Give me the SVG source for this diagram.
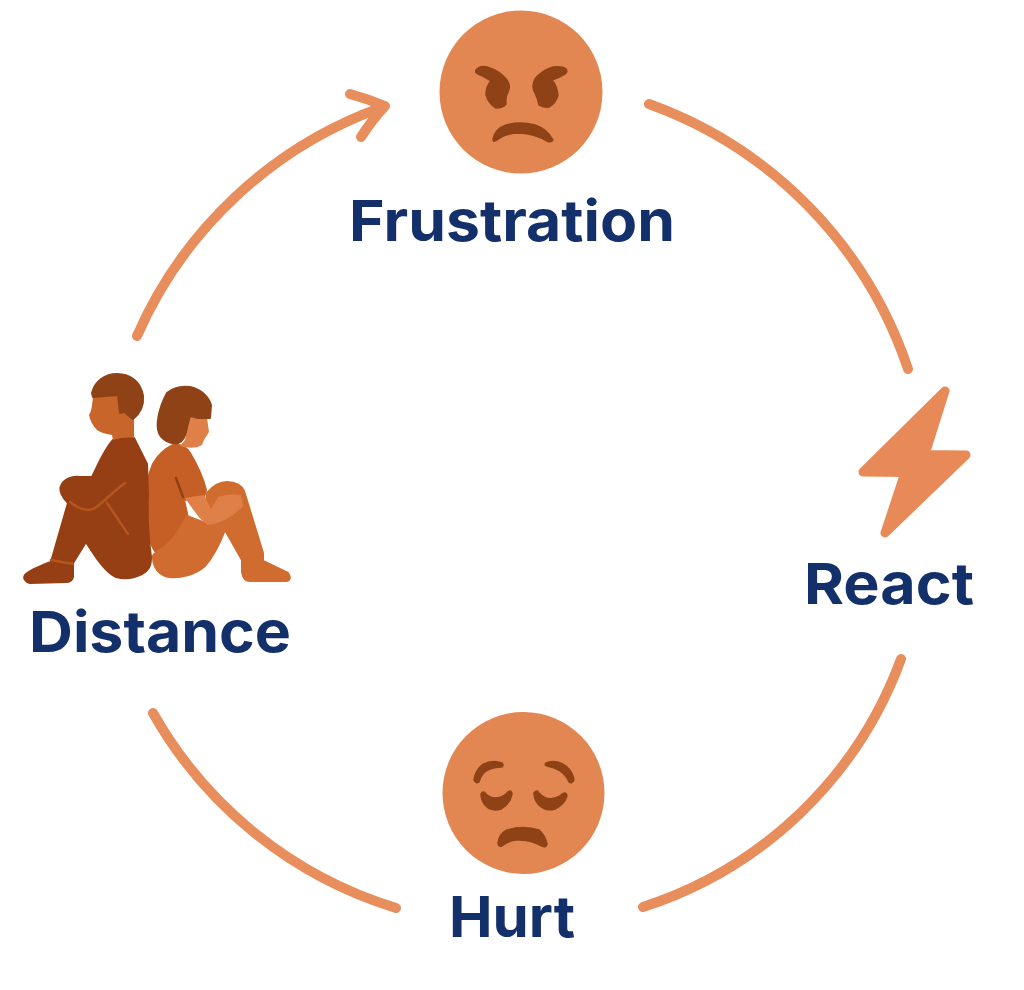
<svg xmlns="http://www.w3.org/2000/svg" width="1024" height="990" viewBox="0 0 1024 990">
<style>
.arc{fill:none;stroke:#e88d5c;stroke-width:10;stroke-linecap:round;stroke-linejoin:round}
.face{fill:#e38752}
.feat{fill:#8f4216;stroke:#8f4216;stroke-width:1.5;stroke-linejoin:round}
.lbl{font-family:"Inter","Liberation Sans",sans-serif;font-weight:700;font-size:57px;fill:#14306a}
.seam{fill:none;stroke:#b5561f;stroke-width:2.5;stroke-linecap:round;stroke-linejoin:round}
.fig{stroke-width:2;stroke-linejoin:round}
</style>
<rect width="1024" height="990" fill="#ffffff"/>
<g id="connectors">
<path class="arc" d="M649 104A425 425 0 0 1 908 369"/>
<path class="arc" d="M901 659A408 408 0 0 1 643 907"/>
<path class="arc" d="M396 908A420 420 0 0 1 153 713"/>
<path class="arc" d="M137 336A423 423 0 0 1 380 108"/>
<path class="arc" d="M350 94Q368 99 385 106Q372 120 361 137"/>
</g>
<g id="frustration">
<circle class="face" cx="521" cy="92" r="81.5"/>
<path class="feat" d="M476 70Q480 65 487 67Q500 71 507 80Q511 86 508 92Q505 97 506 104Q503 108 496 108Q489 104 486 95Q486 86 491 81Q484 76 478 74Q475 73 476 70Z"/>
<path class="feat" d="M566 69Q562 66 553 67Q541 71 535 79Q531 86 535 93Q538 99 539 105Q543 108 549 107Q556 103 558 95Q557 86 552 80Q560 77 565 74Q568 72 566 69Z"/>
<path class="feat" d="M493 139Q495 129 506 125Q520 121 535 125Q547 129 553 140Q551 143 547 141Q535 134 520 133Q505 133 497 140Q493 143 493 139Z"/>
<text class="lbl" x="349" y="241" textLength="326" lengthAdjust="spacingAndGlyphs">Frustration</text>
</g>
<g id="react">
<path d="M945 391L925 454.5L966 455L885 533L905 472.5L863 472Z" fill="#e88a58" stroke="#e88a58" stroke-width="9" stroke-linejoin="round"/>
<text class="lbl" x="804" y="604" textLength="170" lengthAdjust="spacingAndGlyphs">React</text>
</g>
<g id="hurt">
<circle class="face" cx="523.5" cy="793" r="81"/>
<path class="feat" d="M502 763Q492 759 482 765Q475 771 474 780Q476 784 479 782Q481 775 486 771Q493 767 502 767Q504 765 502 763Z"/>
<path class="feat" d="M546 763Q556 759 566 766Q573 772 574 780Q572 784 569 782Q566 775 560 771Q554 767 547 766Q544 765 546 763Z"/>
<path class="feat" d="M481 794Q483 790 486 794Q494 802 506 794Q511 788 512 794Q510 804 501 809Q491 812 485 805Q481 800 481 794Z"/>
<path class="feat" d="M534 793Q537 789 539 793Q548 803 560 796Q566 790 567 796Q564 805 555 809Q545 812 538 804Q534 799 534 793Z"/>
<path class="feat" d="M498 843Q499 834 507 830Q523 825 539 830Q545 835 547 844Q546 848 542 846Q530 839 516 840Q508 841 502 846Q498 847 498 843Z"/>
<text class="lbl" x="449" y="937" textLength="126" lengthAdjust="spacingAndGlyphs">Hurt</text>
</g>
<g id="distance">
<path class="fig" fill="#c65f25" stroke="#c65f25" d="M173 445C180 444 186 447 190 453C197 465 203 477 206 490L204 497L184 500L188 518L172 542L157 554C150 545 146 530 145 515C144 495 147 478 153 464C158 455 165 449 173 445Z"/>
<path class="fig" fill="#d06c2f" stroke="#d06c2f" d="M153 557C152 554 155 554 160 550C170 544 180 530 187 516L205 523L207 493C213 486 220 482 227 482C236 482 242 486 244 491L263 553L263 561L288 573C291 577 290 581 286 581L250 581C245 581 243 578 242 572L242 560L225 530C220 543 214 556 205 566C195 575 180 578 170 577C160 576 153 568 153 557Z"/>
<path fill="#df8049" d="M185 498L204 495L211 509L218 497C226 494 235 494 241 495L243 506C234 516 220 524 208 525C202 522 196 514 185 498Z"/>
<path fill="#df8049" d="M190 417L207 418L209 432L204 440L202 445C195 449 187 448 180 446L185 440L187 428Z"/>
<path class="fig" fill="#8f4216" stroke="#8f4216" d="M167 393C174 387 182 386 190 387C200 389 208 396 211 405L210 418L198 418L190 416L187 427C186 434 184 441 178 443C170 444 162 440 159 433C156 426 158 410 167 393Z"/>
<path class="fig" fill="#963f14" stroke="#963f14" d="M113 440C120 438 127 437 134 438L147 464L148 495C147 515 148 535 151 557C151 567 148 571 142 574C132 579 124 579 116 577C106 573 96 558 86 542L73 563L73 577C72 581 70 582 66 582L30 583C25 582 23 578 25 575C30 570 40 566 51 562L68 503C62 497 59 490 61 486C64 479 72 476 80 477C85 477 89 477 92 477C98 465 104 450 113 440Z"/>
<path fill="#c8652a" d="M93 397L120 395L122 412L134 419L134 438C127 437 120 438 113 440L112 435C105 434 100 432 97 430C92 425 90 420 89 415C92 411 92 404 93 397Z"/>
<path class="fig" fill="#8f4216" stroke="#8f4216" d="M92 393C95 381 105 374 117 374C131 374 141 383 143 396C144 406 139 414 133 419L124 412L120 413L118 395L93 397Z"/>
<path class="seam" d="M70 502C80 510 88 512 95 508C105 501 115 490 125 483M107 503L128 534"/>
<path class="seam" d="M51 560L73 564"/>
<path class="seam" d="M176 478L183 497" style="stroke:#8f4216"/>
<text class="lbl" x="29" y="652" textLength="262" lengthAdjust="spacingAndGlyphs">Distance</text>
</g>
</svg>
